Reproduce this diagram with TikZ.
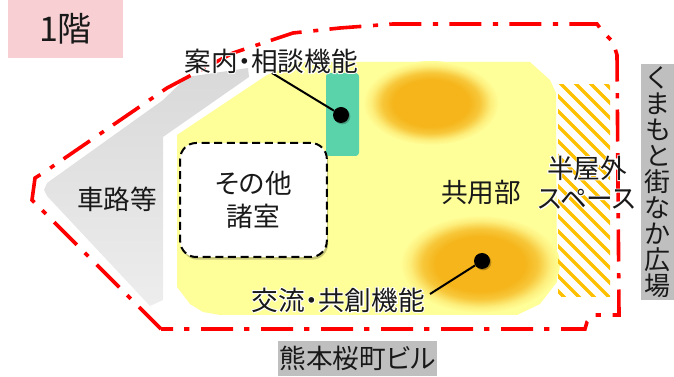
\documentclass[tikz,border=0pt]{standalone}
\usepackage{fontspec}
\usetikzlibrary{shadows}
\setmainfont{Noto Sans CJK JP}[RawFeature=+palt]
\newfontfamily\halofont{Noto Sans CJK JP}[RawFeature=+palt,FakeBold=7]
\definecolor{pinkbox}{HTML}{F8D0D4}
\definecolor{yellowfloor}{HTML}{FFFF99}
\definecolor{orangeblob}{HTML}{F5B51B}
\definecolor{greenbox}{HTML}{5BD3AA}
\definecolor{hatchorange}{HTML}{FFC000}
\definecolor{labelgray}{HTML}{BFBFBF}
\pgfdeclareradialshading{blobshade}{\pgfpoint{0bp}{0bp}}{
 color(0bp)=(orangeblob); color(14bp)=(orangeblob); color(18bp)=(orangeblob!75!yellowfloor);
 color(22bp)=(orangeblob!22!yellowfloor); color(25bp)=(yellowfloor); color(50bp)=(yellowfloor)}
\newcommand{\halo}[1]{\rlap{\color{white}\halofont #1}#1}
\tikzset{
  jp/.style={font=\fontsize{20}{24.75}\selectfont,inner sep=0pt,text=black!90},
  grayfill/.style={jp,fill=labelgray,inner sep=0pt},
  dotmark/.style={circle,fill=black,minimum size=12pt,inner sep=0pt,general shadow={fill=black,opacity=.25,shadow xshift=1pt,shadow yshift=-1pt}},
  leader/.style={line width=1.5pt,black},
  boundary/.style={red,line width=2.7pt,dash pattern=on 24pt off 8.4pt on 3.8pt off 8.8pt,dash phase=15pt,line join=miter},
}
\begin{document}
\begin{tikzpicture}[x=.75pt,y=-.75pt]
\useasboundingbox (0,0) rectangle (674,377);
% title
\node[jp,fill=pinkbox,minimum width=86.25pt,minimum height=43.5pt,font=\fontsize{25.5}{30}\selectfont] (title) at (65.5,29) {1階};
% road
\shade[top color=black!15,bottom color=black!7]
 (248,68) -- (249,77) -- (163,137) -- (163,300) -- (150,306) -- (47,196) -- (44,190) -- (47,183) -- (163,100) -- (187,77) -- cycle;
% common floor
\fill[yellowfloor] (267,75) -- (177,135) -- (177,287) -- (190,304) -- (203,312) -- (220,315) -- (517,315) -- (540,304) -- (557,282) -- (556,93) -- (550,80) -- (530,62) -- (300,62) -- cycle;
% blobs
\shade[shading=blobshade] (431,103) ellipse [x radius=68,y radius=42];
\shade[shading=blobshade] (480,264) ellipse [x radius=80,y radius=49];
% hatched space
\begin{scope}
\clip (558,85) rectangle (610,297);
\foreach \s in {0,15,...,285}{
  \draw[hatchorange,line width=2.6pt] (327+\s,60) -- ++(280,280);
}
\end{scope}
% green
\node[fill=greenbox,rounded corners=2.5pt,minimum width=24.75pt,minimum height=62.25pt,inner sep=0pt] (green) at (342.5,114.5) {};
% other rooms
\node[jp,fill=white,draw=black,line width=1.5pt,dash pattern=on 6pt off 3.5pt,rounded corners=12pt,minimum width=110pt,minimum height=85.5pt,align=center,general shadow={fill=black,opacity=.22,shadow xshift=1pt,shadow yshift=-2pt}] (rooms) at (253.5,200) {その他\\諸室};
% dots and leaders
\node[dotmark] (dotA) at (341,115) {};
\node[dotmark] (dotB) at (482,261) {};
\coordinate (freeA) at (272,73);
\coordinate (freeB) at (430,294);
\draw[leader] (freeA) -- (dotA);
\draw[leader] (freeB) -- (dotB);
% boundary
\draw[boundary] (161,329) -- (585,329) -- (587,322) -- (593,315) -- (619,315) -- (617,55) -- (613,42) -- (603,32) -- (597,24) -- (393,24) -- (340,28) -- (293,33) -- (233,53) -- (167,88) -- (43,173) -- (35,178) -- (32,200) -- cycle;
% labels
\node[jp] (road) at (117,199) {車路等};
\node[jp] (common) at (481,192) {共用部};
\node[jp] (consult) at (271,61) {\halo{案内・相談機能}};
\node[jp] (exchange) at (338,300) {\halo{交流・共創機能}};
\node[jp] (semi) at (587,168) {\halo{半屋外}};
\node[jp] (space) at (587,199) {\halo{スペース}};
\node[grayfill,minimum width=24.75pt,minimum height=177pt,align=center,font=\fontsize{19.5}{19.5}\selectfont] (plaza) at (657.5,182) {く\\ま\\も\\と\\街\\な\\か\\広\\場};
\node[grayfill,minimum width=119.25pt,minimum height=26.25pt] (building) at (357.5,358.5) {熊本桜町ビル};
\end{tikzpicture}
\end{document}
